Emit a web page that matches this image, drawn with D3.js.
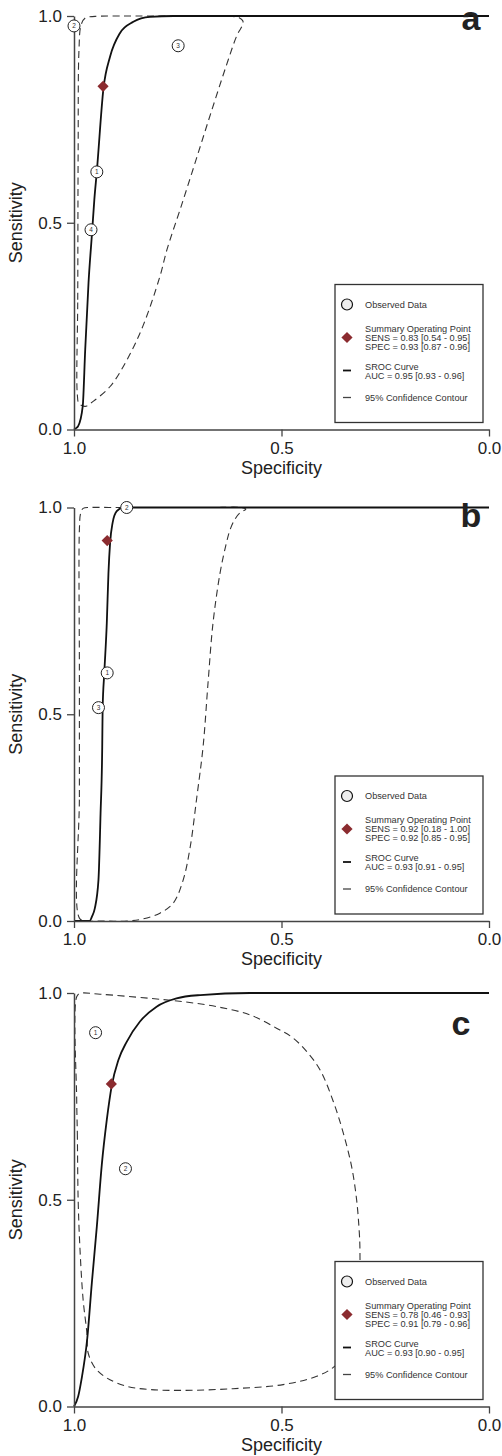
<!DOCTYPE html>
<html>
<head>
<meta charset="utf-8">
<script src="https://cdn.jsdelivr.net/npm/d3@7"></script>
<style>
  body { margin: 0; background: #fff; }
  svg { display: block; }
  text { font-family: "Liberation Sans", Arial, sans-serif; }
</style>
</head>
<body>
<svg id="chart"></svg>
<script>
// values, as [specificity, sensitivity]
var panelLetters = ["a", "b", "c"];
var axisTicks = [0, 0.5, 1];

// panel a
var studiesA = [[1.0, 0.976], [0.749, 0.928], [0.945, 0.623], [0.959, 0.483]];
var studyLabelsA = ["2", "3", "1", "4"];
var summaryA = [0.93, 0.83];
var srocA = [[1, 0], [0.994, 0.004], [0.990, 0.008], [0.979, 0.056], [0.973, 0.193], [0.965, 0.355],
  [0.956, 0.483], [0.951, 0.556], [0.945, 0.624], [0.929, 0.825], [0.913, 0.902], [0.889, 0.959],
  [0.857, 0.986], [0.817, 0.998], [0.76, 1.0], [0, 1]];
var contourA = [[0.992, 0.085], [0.991, 0.314], [0.990, 0.676], [0.988, 0.918], [0.983, 0.978],
  [0.973, 0.995], [0.949, 0.999], [0.88, 1.0], [0.817, 1.0], [0.75, 1.0], [0.68, 1.0],
  [0.624, 0.999], [0.602, 0.996], [0.593, 0.988], [0.595, 0.976], [0.607, 0.954], [0.634, 0.877],
  [0.670, 0.766], [0.706, 0.652], [0.742, 0.539], [0.776, 0.435], [0.793, 0.370], [0.834, 0.250],
  [0.872, 0.169], [0.913, 0.104], [0.954, 0.068], [0.973, 0.056], [0.988, 0.063]];
var legendA = ["SENS = 0.83 [0.54 - 0.95]", "SPEC = 0.93 [0.87 - 0.96]", "AUC = 0.95 [0.93 - 0.96]"];

// panel b
var studiesB = [[0.873, 1.0], [0.920, 0.600], [0.941, 0.516]];
var studyLabelsB = ["2", "1", "3"];
var summaryB = [0.92, 0.92];
var srocB = [[1, 0], [0.962, 0], [0.957, 0.01], [0.950, 0.03], [0.941, 0.10], [0.936, 0.26],
  [0.932, 0.42], [0.931, 0.514], [0.927, 0.60], [0.921, 0.72], [0.917, 0.841], [0.913, 0.915],
  [0.907, 0.963], [0.897, 0.991], [0.881, 1.0], [0, 1]];
var contourB = [[0.987, 0.007], [0.987, 0.3], [0.987, 0.6], [0.987, 0.947], [0.984, 0.986],
  [0.978, 0.998], [0.961, 1.0], [0.90, 1.0], [0.82, 1.0], [0.74, 1.0], [0.66, 1.0], [0.60, 1.0],
  [0.586, 0.996], [0.600, 0.987], [0.612, 0.972], [0.624, 0.946], [0.634, 0.909], [0.648, 0.842],
  [0.665, 0.721], [0.677, 0.576], [0.689, 0.421], [0.704, 0.300], [0.720, 0.179], [0.737, 0.099],
  [0.761, 0.043], [0.793, 0.019], [0.834, 0.005], [0.872, 0.0], [0.937, 0.0], [0.973, 0.0]];
var legendB = ["SENS = 0.92 [0.18 - 1.00]", "SPEC = 0.92 [0.85 - 0.95]", "AUC = 0.93 [0.91 - 0.95]"];

// panel c
var studiesC = [[0.948, 0.904], [0.876, 0.575]];
var studyLabelsC = ["1", "2"];
var summaryC = [0.91, 0.78];
var srocC = [[1, 0], [0.990, 0.024], [0.982, 0.065], [0.968, 0.165], [0.957, 0.299], [0.945, 0.435],
  [0.933, 0.585], [0.921, 0.693], [0.909, 0.776], [0.893, 0.838], [0.873, 0.882], [0.841, 0.931],
  [0.801, 0.967], [0.753, 0.987], [0.696, 0.995], [0.576, 1.0], [0, 1]];
var contourC = [[0.9935, 0.742], [0.992, 0.662], [0.990, 0.500], [0.9855, 0.379], [0.978, 0.258],
  [0.969, 0.178], [0.966, 0.130], [0.949, 0.093], [0.921, 0.069], [0.873, 0.049], [0.817, 0.041],
  [0.737, 0.039], [0.617, 0.043], [0.496, 0.053], [0.415, 0.073], [0.376, 0.094], [0.354, 0.118],
  [0.335, 0.162], [0.320, 0.234], [0.312, 0.307], [0.311, 0.379], [0.3125, 0.420], [0.319, 0.500],
  [0.331, 0.580], [0.351, 0.661], [0.375, 0.737], [0.407, 0.814], [0.439, 0.858], [0.472, 0.891],
  [0.512, 0.915], [0.576, 0.947], [0.656, 0.967], [0.737, 0.979], [0.817, 0.987], [0.937, 0.997],
  [0.986, 0.999], [0.9935, 0.991]];
var legendC = ["SENS = 0.78 [0.46 - 0.93]", "SPEC = 0.91 [0.79 - 0.96]", "AUC = 0.93 [0.90 - 0.95]"];

var panelTops = [16, 507.5, 993];
var letterPos = [[471, 30], [471, 527], [461, 1035]];

var panels = [
  { studies: studiesA, labels: studyLabelsA, summary: summaryA, sroc: srocA, contour: contourA, legend: legendA },
  { studies: studiesB, labels: studyLabelsB, summary: summaryB, sroc: srocB, contour: contourB, legend: legendB },
  { studies: studiesC, labels: studyLabelsC, summary: summaryC, sroc: srocC, contour: contourC, legend: legendC }
];

var plotH = 413.5;
var svg = d3.select("#chart").attr("width", 502).attr("height", 1456);

var x = d3.scaleLinear().domain([1, 0]).range([74, 489]);
var diamond = d3.symbol().type(d3.symbolDiamond2).size(80);

panels.forEach(function(p, i) {
  var top = panelTops[i], bottom = top + plotH;
  var y = d3.scaleLinear().domain([0, 1]).range([bottom, top]);
  var g = svg.append("g");

  // the SROC curve runs left to right, so a monotone curve keeps it from overshooting 1.0
  var curveLine = d3.line()
    .x(function(d) { return x(d[0]); })
    .y(function(d) { return y(d[1]); })
    .curve(d3.curveMonotoneX);
  var loopLine = d3.line()
    .x(function(d) { return x(d[0]); })
    .y(function(d) { return y(d[1]); })
    .curve(d3.curveCatmullRomClosed.alpha(0.5));

  // 95% confidence contour
  g.append("path")
    .attr("d", loopLine(p.contour))
    .attr("fill", "none")
    .attr("stroke", "#333")
    .attr("stroke-width", 1.1)
    .attr("stroke-dasharray", "7,4.5");

  // SROC curve
  g.append("path")
    .attr("d", curveLine(p.sroc))
    .attr("fill", "none")
    .attr("stroke", "#111")
    .attr("stroke-width", 1.8);

  // axes
  var xAxis = g.append("g")
    .attr("transform", "translate(0," + bottom + ")")
    .call(d3.axisBottom(x).tickValues(axisTicks).tickFormat(d3.format(".1f"))
      .tickSize(7).tickSizeOuter(0).tickPadding(5));
  var yAxis = g.append("g")
    .attr("transform", "translate(74,0)")
    .call(d3.axisLeft(y).tickValues(axisTicks).tickFormat(d3.format(".1f"))
      .tickSize(7).tickSizeOuter(0).tickPadding(5));
  [xAxis, yAxis].forEach(function(a) {
    a.select(".domain").attr("stroke", "#444").attr("stroke-width", 1.5);
    a.selectAll(".tick line").attr("stroke", "#444").attr("stroke-width", 1.3);
    a.selectAll(".tick text").attr("fill", "#222").style("font-size", "17px");
  });

  g.append("text")
    .attr("x", 281.5).attr("y", bottom + 44)
    .attr("text-anchor", "middle")
    .attr("fill", "#222")
    .style("font-size", "18px")
    .text("Specificity");

  g.append("text")
    .attr("transform", "translate(22," + (top + plotH / 2) + ") rotate(-90)")
    .attr("text-anchor", "middle")
    .attr("fill", "#222")
    .style("font-size", "18px")
    .text("Sensitivity");

  // observed studies
  var st = g.selectAll(".study").data(p.studies).enter().append("g")
    .attr("transform", function(d) { return "translate(" + x(d[0]) + "," + y(d[1]) + ")"; });
  st.append("circle").attr("r", 6).attr("fill", "#fff").attr("stroke", "#222").attr("stroke-width", 1);
  st.append("text")
    .attr("text-anchor", "middle").attr("dy", "0.35em")
    .attr("fill", "#333").style("font-size", "6.5px")
    .text(function(d, j) { return p.labels[j]; });

  // summary operating point
  g.append("path")
    .attr("d", diamond)
    .attr("transform", "translate(" + x(p.summary[0]) + "," + y(p.summary[1]) + ")")
    .attr("fill", "#8b2b2f");

  // legend
  var lg = g.append("g").attr("transform", "translate(335," + (bottom - 145) + ")");
  lg.append("rect").attr("width", 148).attr("height", 138)
    .attr("fill", "#fff").attr("stroke", "#333").attr("stroke-width", 1.3);
  lg.append("circle").attr("cx", 12).attr("cy", 20).attr("r", 5.5)
    .attr("fill", "#eee").attr("stroke", "#111").attr("stroke-width", 1.2);
  lg.append("path").attr("d", diamond).attr("transform", "translate(12,53)").attr("fill", "#8b2b2f");
  lg.append("line").attr("x1", 8).attr("x2", 16).attr("y1", 86).attr("y2", 86)
    .attr("stroke", "#111").attr("stroke-width", 1.8);
  lg.append("line").attr("x1", 8).attr("x2", 16).attr("y1", 113).attr("y2", 113)
    .attr("stroke", "#444").attr("stroke-width", 1.3);

  var rows = [
    ["Observed Data", 20],
    ["Summary Operating Point", 44],
    [p.legend[0], 53],
    [p.legend[1], 62],
    ["SROC Curve", 82],
    [p.legend[2], 91],
    ["95% Confidence Contour", 113]
  ];
  lg.selectAll(".row").data(rows).enter().append("text")
    .attr("x", 30).attr("y", function(d) { return d[1]; })
    .attr("dy", "0.35em")
    .attr("fill", "#333")
    .style("font-size", "9.2px")
    .text(function(d) { return d[0]; });

  // panel letter
  g.append("text")
    .attr("x", letterPos[i][0]).attr("y", letterPos[i][1])
    .attr("text-anchor", "middle")
    .attr("fill", "#222")
    .style("font-size", "34px").style("font-weight", "bold")
    .text(panelLetters[i]);
});
</script>
</body>
</html>
